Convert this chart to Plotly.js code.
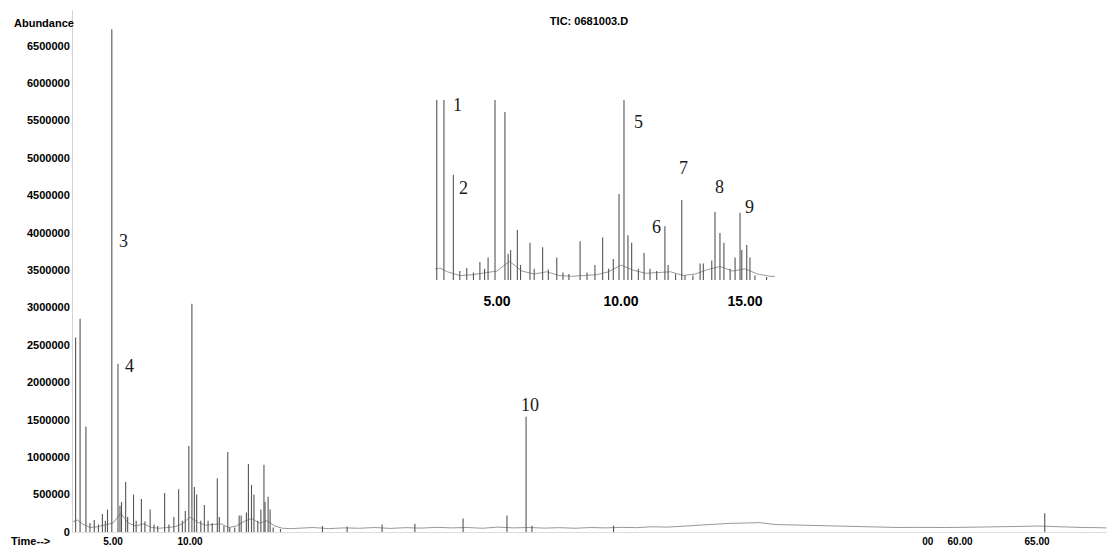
<!DOCTYPE html>
<html><head><meta charset="utf-8">
<script src="https://cdn.plot.ly/plotly-3.0.1.min.js"></script>
<style>html,body{margin:0;padding:0;background:#fff;} #chart{width:1112px;height:547px;}</style>
</head><body><div id="chart"></div>
<script>
// ---- data ----
const chartTitle = 'TIC: 0681003.D';
const yAxisLabel = 'Abundance';
const xAxisLabel = 'Time-->';

// retention time (min) and abundance of each peak
const peakTime = [2.57, 2.86, 3.24, 3.5, 3.78, 4.05, 4.31, 4.5, 4.64, 4.92, 5.32, 5.45, 5.55, 5.82, 5.95,
  6.33, 6.5, 6.84, 7.07, 7.41, 7.66, 7.9, 8.35, 8.63, 8.95, 9.26, 9.5, 9.69, 9.92, 10.12, 10.28, 10.43,
  10.7, 10.93, 11.17, 11.44, 11.77, 11.9, 12.2, 12.45, 12.58, 12.9, 13.19, 13.32, 13.66, 13.79, 13.99,
  14.15, 14.4, 14.6, 14.8, 14.87, 15.07, 15.2, 15.4, 15.87,
  18.6, 20.2, 22.47, 24.6, 27.73, 30.58, 31.82, 32.2, 37.5, 65.5];
const peakAbund = [2600000, 2850000, 1410000, 120000, 160000, 100000, 240000, 150000, 300000, 6720000, 2250000, 350000, 400000, 670000, 200000,
  500000, 150000, 440000, 140000, 300000, 100000, 80000, 520000, 100000, 200000, 570000, 150000, 280000, 1150000, 3050000, 600000, 500000,
  150000, 360000, 150000, 120000, 720000, 200000, 80000, 1070000, 60000, 60000, 220000, 220000, 260000, 910000, 630000,
  500000, 150000, 300000, 900000, 400000, 470000, 300000, 60000, 40000,
  80000, 75000, 100000, 110000, 180000, 220000, 1540000, 85000, 85000, 250000];

// baseline (noise floor) of the trace
const baseTime = [2.4, 2.7, 3.0, 3.5, 4.0, 4.5, 5.0, 5.5, 6.0, 6.5, 7.0, 7.5, 8.0, 8.5, 9.0, 9.5, 10.0, 10.5,
  11.0, 11.5, 12.0, 12.5, 13.0, 13.5, 14.0, 14.5, 15.0, 15.5, 16.0, 16.5,
  17, 18, 19, 20, 21, 22, 23, 24, 25, 26, 27, 28, 29, 30, 31, 32, 33, 34, 35, 36, 37, 38, 39, 40,
  41, 42, 43, 44, 45, 46, 47, 48, 49, 50, 51, 52, 53, 54, 55, 56, 57, 58, 59, 60, 61, 62, 63, 64,
  65, 66, 67, 68, 69, 69.5];
const baseAbund = [140000, 160000, 110000, 60000, 70000, 90000, 120000, 250000, 120000, 80000, 110000, 60000, 50000, 60000, 70000, 110000, 200000, 130000,
  90000, 100000, 110000, 60000, 80000, 140000, 180000, 120000, 150000, 80000, 50000, 45000,
  50000, 60000, 45000, 55000, 50000, 60000, 48000, 58000, 52000, 62000, 55000, 60000, 50000, 65000, 55000, 60000, 52000, 58000, 50000, 60000, 55000, 62000, 58000, 70000,
  65000, 80000, 95000, 110000, 115000, 120000, 125000, 100000, 95000, 85000, 80000, 75000, 70000, 68000, 65000, 60000, 62000, 58000, 60000, 62000, 65000, 60000, 70000, 75000,
  80000, 70000, 65000, 60000, 58000, 55000];

const mainTickVals = [5, 10, 57.9, 60, 65];
const mainTickText = ['5.00', '10.00', '00', '60.00', '65.00'];
const yTickVals = [0, 500000, 1000000, 1500000, 2000000, 2500000, 3000000, 3500000, 4000000, 4500000, 5000000, 5500000, 6000000, 6500000];
const insetTickVals = [5, 10, 15];
const insetTickText = ['5.00', '10.00', '15.00'];
const mainPeakLabels = ['3', '4', '10'];
const insetPeakLabels = ['1', '2', '5', '6', '7', '8', '9'];

// ---- drawing ----
function stems(times, vals) {
  const x = [], y = [];
  times.forEach((t, i) => { x.push(t, t, null); y.push(0, vals[i], null); });
  return {x, y};
}
const st = stems(peakTime, peakAbund);
const peakLine = {color: '#555555', width: 1.1};
const baseLine = {color: '#999999', width: 1};

const traces = [
  {type: 'scatter', mode: 'lines', x: baseTime, y: baseAbund, line: baseLine, xaxis: 'x', yaxis: 'y', hoverinfo: 'skip'},
  {type: 'scatter', mode: 'lines', x: st.x, y: st.y, line: peakLine, connectgaps: false, xaxis: 'x', yaxis: 'y'},
  {type: 'scatter', mode: 'lines', x: baseTime, y: baseAbund, line: baseLine, xaxis: 'x2', yaxis: 'y2', hoverinfo: 'skip'},
  {type: 'scatter', mode: 'lines', x: st.x, y: st.y, line: peakLine, connectgaps: false, xaxis: 'x2', yaxis: 'y2'}
];

const W = 1112, H = 547, L = 73, R = 5, T = 10, B = 15;
const pw = W - L - R, ph = H - T - B;
const px2paperX = px => (px - L) / pw;
const px2paperY = py => (H - B - py) / ph;

const boldSans = {family: 'Liberation Sans, Arial, sans-serif', size: 11, color: '#000', weight: 'bold'};
const serifLbl = {family: 'Liberation Serif, Times New Roman, serif', size: 18, color: '#1a1a1a'};

const mainLabelPos = [[5.65, 3890000], [6.10, 2220000], [32.08, 1700000]];
const insetLabelPos = [[3.39, 2340000], [3.63, 1230000], [10.69, 2120000], [11.45, 710000], [12.5, 1500000], [13.99, 1250000], [15.2, 980000]];

const annotations = [
  {text: yAxisLabel, xref: 'paper', yref: 'paper', x: px2paperX(12), y: px2paperY(23), xanchor: 'left', yanchor: 'middle', showarrow: false, font: boldSans},
  {text: xAxisLabel, xref: 'paper', yref: 'paper', x: px2paperX(9), y: px2paperY(541), xanchor: 'left', yanchor: 'middle', showarrow: false, font: boldSans}
];
mainPeakLabels.forEach((t, i) => annotations.push({text: t, xref: 'x', yref: 'y', x: mainLabelPos[i][0], y: mainLabelPos[i][1], showarrow: false, font: serifLbl, xanchor: 'center', yanchor: 'middle'}));
insetPeakLabels.forEach((t, i) => annotations.push({text: t, xref: 'x2', yref: 'y2', x: insetLabelPos[i][0], y: insetLabelPos[i][1], showarrow: false, font: serifLbl, xanchor: 'center', yanchor: 'middle'}));

const layout = {
  width: W, height: H,
  margin: {l: L, r: R, t: T, b: B, pad: 0},
  paper_bgcolor: '#fff', plot_bgcolor: 'rgba(0,0,0,0)',
  showlegend: false,
  title: {text: chartTitle, x: 589 / W, xanchor: 'center', xref: 'container', y: 1 - 21 / H, yanchor: 'middle', yref: 'container', font: boldSans},
  xaxis: {range: [2.4, 2.4 + pw / 15.4], tickvals: mainTickVals, ticktext: mainTickText, showgrid: false, zeroline: false,
    showline: true, linecolor: '#dddddd', linewidth: 1, ticks: '', ticklabelstandoff: 0, tickfont: {family: 'Liberation Sans, Arial, sans-serif', size: 10, color: '#000', weight: 'bold'}},
  yaxis: {range: [0, ph * 13369], tickvals: yTickVals, tickformat: 'd', showgrid: false, zeroline: false,
    showline: true, linecolor: '#d4d4d4', linewidth: 1, ticks: '', tickfont: boldSans},
  xaxis2: {domain: [px2paperX(435), px2paperX(775)], anchor: 'y2', range: [2.5, 2.5 + 340 / 24.8],
    tickvals: insetTickVals, ticktext: insetTickText, showgrid: false, zeroline: false, showline: false,
    ticks: 'outside', ticklen: 8, tickcolor: 'rgba(0,0,0,0)', tickfont: {family: 'Liberation Sans, Arial, sans-serif', size: 14, color: '#000', weight: 'bold'}},
  yaxis2: {domain: [px2paperY(280), px2paperY(100)], anchor: 'x2', range: [0, 180 * 13389],
    showgrid: false, zeroline: false, showline: false, showticklabels: false, ticks: ''},
  annotations: annotations
};

Plotly.newPlot('chart', traces, layout, {staticPlot: true, displayModeBar: false});
</script></body></html>
